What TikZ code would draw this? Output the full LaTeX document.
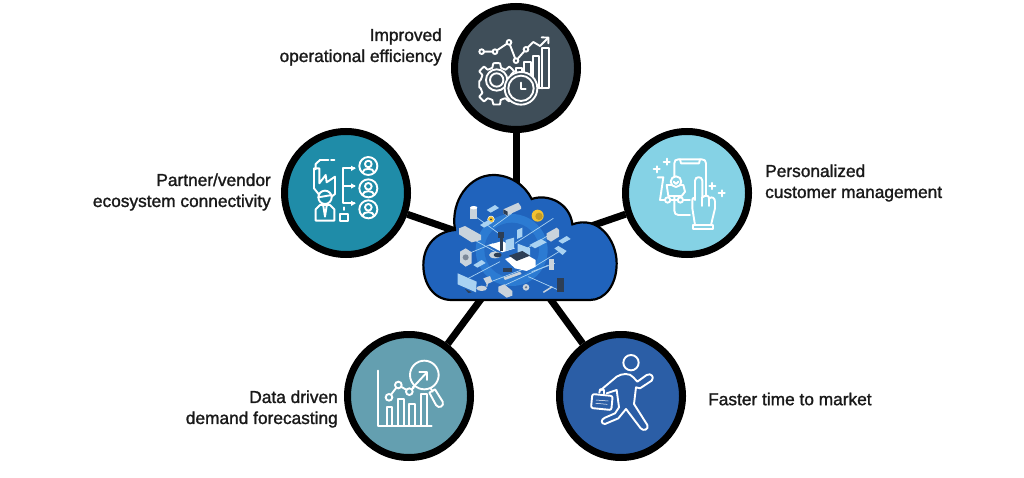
\documentclass[tikz,border=0pt]{standalone}
\usepackage{fontspec}
\setmainfont[FakeBold=1.4]{Liberation Sans}
\usetikzlibrary{arrows.meta}
\definecolor{cTop}{HTML}{3F4E59}
\definecolor{cLeft}{HTML}{1F8CA8}
\definecolor{cRight}{HTML}{85D2E5}
\definecolor{cBL}{HTML}{649FB0}
\definecolor{cBR}{HTML}{2B5EA6}
\definecolor{cCloud}{HTML}{2063BC}
\definecolor{cHalo}{HTML}{2C7BD2}
\definecolor{cPale}{HTML}{A9D2F2}
\definecolor{cGrey}{HTML}{C9D3DC}
\definecolor{cDark}{HTML}{2D3E55}
\definecolor{cGold}{HTML}{F2C230}
\tikzset{
  x=1pt,y=-1pt,
  bubble/.style={circle,draw=black,line width=7pt,minimum size=123pt,inner sep=0pt},
  link/.style={draw=black,line width=7pt},
  lab/.style={font=\fontsize{17.3pt}{21pt}\selectfont,text=black!90,inner sep=0pt},
  zoomed/.style={x=0.33333pt,y=-0.33333pt},
  ic/.style={draw=white,line width=1.9pt,line join=round,line cap=round},
  dot/.style={draw=white,line width=1.9pt},
  wire/.style={draw=cPale,line width=.7pt},
  gad/.style={fill=cGrey,draw=none},
}
\begin{document}
\begin{tikzpicture}
\useasboundingbox (0,0) rectangle (1024,478);
\node[bubble,fill=cTop]   (nTop)   at (516,68)  {};
\node[bubble,fill=cLeft]  (nLeft)  at (346,193) {};
\node[bubble,fill=cRight] (nRight) at (687,193) {};
\node[bubble,fill=cBL]    (nBL)    at (409,396) {};
\node[bubble,fill=cBR]    (nBR)    at (621,396) {};
\coordinate (hub) at (516,252);
\foreach \n in {nTop,nLeft,nRight,nBL,nBR} \draw[link] (hub) -- (\n);

% cloud
\begin{scope}[shift={(415,165)},zoomed]
\path[fill=cCloud,draw=black,line width=2.2pt]
 (110,405) .. controls (55,405) and (25,355) .. (25,300)
 .. controls (25,240) and (65,200) .. (120,195)
 .. controls (105,105) and (165,30) .. (235,30)
 .. controls (285,30) and (330,60) .. (350,102)
 .. controls (400,85) and (465,115) .. (472,178)
 .. controls (550,150) and (605,225) .. (605,295)
 .. controls (605,360) and (570,405) .. (525,405) -- cycle;
\fill[cHalo] (290,255) circle (108);
\fill[cCloud!70!cHalo] (290,255) circle (82);
\foreach \a/\b/\c/\d in {175/150/265/215, 290/145/235/185, 415/160/300/235, 160/215/250/265, 150/270/235/235, 160/340/255/290, 215/355/345/305, 260/365/400/300, 340/335/430/375, 440/255/350/310, 410/205/320/260, 420/295/350/320}
  \draw[wire] (\a,\b) -- (\c,\d);
% gadgets
\fill[cGrey] (165,128) rectangle (187,162); \fill[white] (176,128) ellipse (11 and 5); 
\path[gad] (265,133) -- (310,113) -- (318,125) -- (318,132) -- (275,152) -- (265,145) -- cycle;
\fill[cDark] (265,133) -- (278,140) -- (278,152) -- (265,145) -- cycle;
\fill[cGold,draw=white,line width=.5pt] (228,163) circle (10);
\fill[cDark] (228,163) circle (3);
\fill[cGold] (368,152) circle (18); \fill[cGold!80!black] (372,154) circle (11);
\path[gad] (132,190) -- (150,183) -- (198,210) -- (198,225) -- (170,232) -- (132,208) -- cycle;
\path[gad] (395,205) -- (425,188) -- (432,195) -- (432,215) -- (408,230) -- (395,222) -- cycle;
\path[gad] (135,260) -- (152,250) -- (170,262) -- (170,295) -- (152,305) -- (135,292) -- cycle;
\fill[cDark!50!cGrey] (152,277) circle (9);
\fill[cPale] (128,325) -- (185,350) -- (183,382) -- (128,358) -- cycle;
\fill[cDark] (150,372) -- (170,382) -- (160,384) -- cycle;
\fill[cGrey] (200,370) ellipse (16 and 8); \fill[cGrey] (205,340) -- (225,333) -- (232,350) -- (215,358) -- cycle; \draw[cGrey,line width=1.2pt] (218,352) -- (215,365);
\path[gad] (250,365) -- (268,358) -- (292,378) -- (292,392) -- (275,398) -- (250,380) -- cycle;
\fill[cGrey] (333,367) circle (10); \fill[cDark!60!cGrey] (333,367) circle (4);
\draw[cGrey,line width=1.5pt] (385,382) -- (412,365);
\fill[cDark] (427,338) rectangle (447,380);
\fill[cGrey] (403,282) rectangle (418,315);
\fill[cPale] (418,250) -- (430,243) -- (455,258) -- (443,270) -- cycle;
\fill[cPale] (343,240) -- (378,222) -- (395,232) -- (360,250) -- cycle;
\fill[cDark] (265,310) rectangle (290,320);
\fill[cGrey] (265,338) -- (315,320) -- (320,327) -- (270,345) -- cycle;
% central desk
\fill[white] (220,240) -- (262,228) -- (300,250) -- (262,262) -- cycle;
\fill[cDark] (250,200) rectangle (268,218); \fill[cDark] (255,218) rectangle (263,258);
\fill[cGrey] (240,270) ellipse (18 and 10); \fill[cDark] (248,270) ellipse (12 and 7);
\fill[cPale] (272,225) -- (297,218) -- (297,250) -- (272,258) -- cycle;
\fill[cPale] (308,236) -- (345,250) -- (345,275) -- (308,262) -- cycle;
\fill[cPale] (306,195) -- (322,188) -- (322,215) -- (306,222) -- cycle;
\fill[white] (270,282) -- (322,262) -- (362,285) -- (362,305) -- (335,318) -- (300,310) -- cycle;
\fill[cDark] (282,272) -- (322,258) -- (345,272) -- (305,288) -- cycle;
% small clouds
\foreach \p/\q in {215/135, 175/300, 430/228, 195/180}
  \fill[cPale] (\p,\q) -- (\p+25,\q-15) -- (\p+37,\q-6) -- (\p+12,\q+8) -- cycle;
\end{scope}

% top icon
\begin{scope}[shift={(440,0)},zoomed]
\draw[ic] (125,155) -- (165,155) -- (207,127) -- (228,182) -- (258,148) -- (280,126) -- (300,138) -- (325,113);
\draw[ic] (305,112) -- (325,113) -- (325,130);
\foreach \p in {(125,155),(165,155),(207,127),(228,182),(258,148)} \fill[cTop,dot] \p circle (7);
\draw[ic] (227,218) -- (227,205) -- (246,205) -- (246,225);
\draw[ic] (252,225) -- (252,185) -- (272,185) -- (272,265) -- (290,265);
\draw[ic] (280,265) -- (280,168) -- (298,168) -- (298,265);
\draw[ic] (307,265) -- (307,143) -- (326,143) -- (326,265) -- (298,265);
\draw[ic,fill=cTop] plot[smooth cycle,tension=0.2] coordinates {(160,190)(180,190)(183,203)(197,209)(208,200)(222,214)(213,225)(218,240)(232,243)(232,262)(218,265)(212,279)(221,290)(207,304)(196,295)(182,300)(180,313)(160,313)(157,300)(143,295)(132,304)(118,290)(127,279)(122,265)(118,262)(118,243)(122,240)(127,225)(118,214)(132,200)(143,209)(157,203)};
\draw[ic] (170,240) circle (32);
\draw[ic] (170,240) circle (20);
\draw[ic,fill=cTop] (243,265) circle (49);
\draw[ic] (243,265) circle (38);
\draw[ic] (243,248) -- (243,268) -- (257,268);
\end{scope}

% left icon
\begin{scope}[shift={(275,120)},zoomed]
\draw[ic] (122,148) -- (122,132) -- (135,120) -- (160,120);
\draw[ic] (168,120) -- (178,120);
\draw[ic] (133,225) -- (117,205) -- (117,145) -- (133,145) -- (133,190) -- (152,165) -- (155,187) -- (180,170) -- (180,222) -- (170,230);
\draw[ic] (150,232) circle (20);
\draw[ic] (130,232) -- (170,225);
\draw[ic] (122,302) -- (122,268) -- (135,255) -- (165,255) -- (178,268) -- (178,302) -- cycle;
\draw[ic] (145,258) -- (150,290) -- (155,258);
\draw[ic] (238,145) -- (205,145) -- (205,250) -- (238,250);
\draw[ic] (205,198) -- (238,198);
\foreach \y in {145,198,250} \fill[white] (242,\y) -- (228,\y-8) -- (228,\y+8) -- cycle;
\foreach \y in {138,205,268} {
  \draw[ic] (280,\y) circle (27);
  \draw[ic] (280,\y-6) circle (10);
  \draw[ic] (263,\y+19) .. controls (263,\y+5) and (297,\y+5) .. (297,\y+19);
}
\draw[ic] (207,262) -- (207,270);
\draw[ic] (196,281) rectangle (218,302);
\end{scope}

% right icon
\begin{scope}[shift={(615,120)},zoomed]
\draw[ic] (225,285) -- (190,285) .. controls (182,285) and (178,280) .. (178,272) -- (178,130) .. controls (178,122) and (182,118) .. (190,118) -- (260,118) .. controls (268,118) and (273,122) .. (273,130) -- (273,230);
\draw[ic] (195,118) -- (198,130) -- (252,130) -- (255,118);
\foreach \p/\q in {155/125, 125/148, 292/198, 320/220} {
  \draw[ic,line width=2.2pt] (\p-9,\q) -- (\p+9,\q);
  \draw[ic,line width=2.2pt] (\p,\q-9) -- (\p,\q+9);
}
\draw[ic,fill=cRight] (155,195) -- (205,195) -- (210,215) -- (200,228) -- (160,228) -- cycle;
\draw[ic,fill=cRight] (183,185) circle (16);
\draw[ic] (176,185) -- (183,192) -- (190,185);
\draw[ic] (128,172) -- (145,172) -- (135,240) -- (225,240);
\fill[cRight,dot] (158,240) circle (8);
\fill[cRight,dot] (196,240) circle (8);
\draw[ic,fill=cRight] (240,315) -- (232,265) -- (232,240) .. controls (232,232) and (240,232) .. (240,240) -- (240,182) .. controls (240,168) and (262,168) .. (262,182) -- (262,232) .. controls (272,225) and (282,225) .. (282,235) .. controls (292,228) and (300,235) .. (300,245) -- (300,265) -- (288,315) -- cycle;
\draw[ic] (262,232) -- (262,258);
\draw[ic] (282,235) -- (282,258);
\draw[ic,fill=cRight] (233,315) rectangle (293,328);
\end{scope}

% bottom-left icon
\begin{scope}[shift={(340,330)},zoomed]
\draw[ic] (115,122) -- (115,287) -- (275,287);
\draw[ic] (140,287) -- (140,232) -- (157,232) -- (157,287);
\draw[ic] (175,287) -- (175,207) -- (192,207) -- (192,287);
\draw[ic] (208,287) -- (208,222) -- (225,222) -- (225,287);
\draw[ic] (242,287) -- (242,192) -- (260,192) -- (260,287);
\draw[ic] (147,202) -- (175,165) -- (208,185) -- (222,172);
\fill[cBL,dot] (147,202) circle (10);
\fill[cBL,dot] (175,165) circle (10);
\fill[cBL,dot] (208,185) circle (10);
\draw[ic] (253,135) circle (43);
\draw[ic] (218,173) -- (258,130);
\draw[ic] (238,127) -- (260,127) -- (260,150);
\draw[ic] (272,175) -- (278,185);
\draw[ic] (268,188) -- (285,178) -- (308,215) .. controls (314,228) and (296,238) .. (288,225) -- cycle;
\end{scope}

% bottom-right icon
\begin{scope}[shift={(550,330)},zoomed]
\draw[ic] (243,98) circle (23);
\draw[ic] (150,182) -- (200,140) .. controls (215,130) and (240,128) .. (250,142) -- (262,155) -- (290,135) .. controls (302,128) and (315,140) .. (305,152) -- (270,175) -- (258,172) -- (252,222) -- (292,285) .. controls (298,298) and (280,305) .. (272,295) -- (228,237) -- (205,265) -- (165,282) .. controls (152,282) and (152,268) .. (165,263) -- (195,250) -- (207,232) -- (200,180) -- (170,190);
\draw[ic,rounded corners=2pt] (127,192) -- (188,198) -- (184,240) -- (123,234) -- cycle;
\draw[ic] (148,188) -- (150,178) -- (162,180) -- (162,190);
\draw[white,line width=.5pt] (138,210) -- (175,213) (137,220) -- (172,223);
\end{scope}

% labels
\node[lab,anchor=east,align=right] (tTop)   at (442,47)  {Improved\\operational efficiency};
\node[lab,anchor=east,align=right] (tLeft)  at (271,192) {Partner/vendor\\ecosystem connectivity};
\node[lab,anchor=west,align=left]  (tRight) at (765,183) {Personalized\\customer management};
\node[lab,anchor=east,align=right] (tBL)    at (338,409) {Data driven\\demand forecasting};
\node[lab,anchor=west,align=left]  (tBR)    at (708,399) {Faster time to market};
\end{tikzpicture}
\end{document}
